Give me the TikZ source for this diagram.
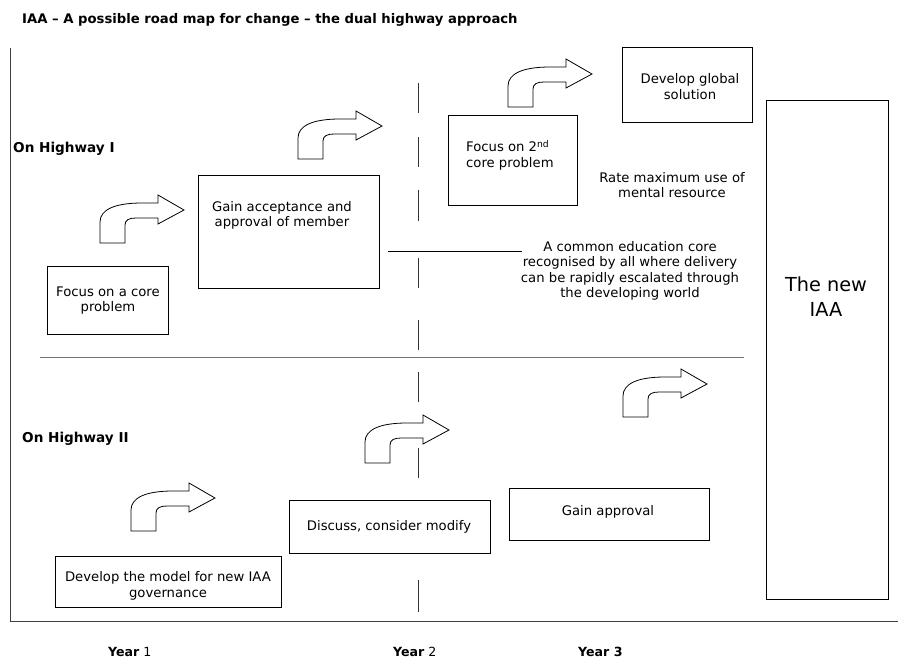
\documentclass[tikz,border=0pt]{standalone}
\usepackage{fontspec}
\setmainfont{DejaVu Sans}
\begin{document}
\begin{tikzpicture}[x=1pt,y=-1pt,
  box/.style={draw=black, line width=0.9pt, fill=white, inner sep=0pt, anchor=north west},
  txt/.style={font=\fontsize{13.2}{15.5}\selectfont, align=center, inner sep=0pt},
  lbl/.style={font=\fontsize{13.6}{15}\selectfont\bfseries, inner sep=0pt, anchor=base west},
  yr/.style={font=\fontsize{12.6}{14}\selectfont, inner sep=0pt, anchor=base west},
  frame/.style={draw=black!75, line width=1pt},
  sep/.style={draw=black!55, line width=1pt},
  dashline/.style={draw=black!80, line width=0.9pt},
  bentarrow/.pic={\draw[fill=white, line width=0.8pt, line join=miter]
    (0,0) -- (25,0) -- (25,-18) .. controls (25,-23) and (29,-25) .. (36,-25)
    -- (58,-25) -- (58,-19) -- (84,-33) -- (58,-48) -- (58,-40) -- (42,-40)
    .. controls (14,-40) and (0,-33) .. (0,-21) -- cycle;}
]
\useasboundingbox (0,0) rectangle (898,662);
% title
\node[font=\fontsize{13.2}{15}\selectfont\bfseries, inner sep=0pt, anchor=base west] (title) at (22,23.5)
  {IAA – A possible road map for change – the dual highway approach};
% frame
\coordinate (ftop) at (10,48);
\coordinate (fcorner) at (10,621);
\coordinate (fright) at (898,621);
\draw[frame] (ftop) -- (fcorner) -- (fright);
% separator
\coordinate (sepl) at (40,357);
\coordinate (sepr) at (744,357);
\draw[sep] (sepl) -- (sepr);
% dashed year-2 line
\foreach \a/\b in {83/113,137/167,190/221,258/288,320/350,372/402,448/478,580/612}
  \draw[dashline] (418,\a) -- (418,\b);
% short horizontal line
\coordinate (hl) at (388,251);
\coordinate (hr) at (522,251);
\draw[line width=0.9pt] (hl) -- (hr);
% highway labels
\node[lbl] (hw1) at (13,152) {On Highway I};
\node[lbl] (hw2) at (22,442) {On Highway II};
% boxes highway I
\node[box, minimum width=121pt, minimum height=68pt] (b1) at (47,266) {};
\node[txt] (b1t) at (b1.center) {Focus on a core\\problem};
\node[box, minimum width=181pt, minimum height=113pt] (b2) at (198,175) {};
\node[txt] (b2t) at (282,215.5) {Gain acceptance and\\approval of member};
\node[box, minimum width=129pt, minimum height=90pt] (b3) at (448,115) {};
\node[txt, align=left, anchor=north west] (b3t) at (466,140) {Focus on 2\textsuperscript{nd}\\core problem};
\node[box, minimum width=130pt, minimum height=75pt] (b4) at (622,47) {};
\node[txt] (b4t) at (690,86.5) {Develop global\\solution};
\node[txt] (rate) at (672,185) {Rate maximum use of\\mental resource};
\node[txt] (core) at (630,271) {A common education core\\recognised by all where delivery\\can be rapidly escalated through\\the developing world};
% big box
\node[box, minimum width=122pt, minimum height=499pt] (iaa) at (766,100) {};
\node[txt, font=\fontsize{19.3}{25}\selectfont] (iaat) at (826,297) {The new\\IAA};
% boxes highway II
\node[box, minimum width=200pt, minimum height=52pt] (c3) at (509,488) {};
\node[txt] (c3t) at (608,512) {Gain approval};
\node[box, minimum width=201pt, minimum height=53pt] (c2) at (289,500) {};
\node[txt] (c2t) at (389,527) {Discuss, consider modify};
\node[box, minimum width=226pt, minimum height=51pt] (c1) at (55,556) {};
\node[txt] (c1t) at (168,586) {Develop the model for new IAA\\governance};
% bent arrows
\pic (a1) at (100,243) {bentarrow};
\pic (a2) at (298,159) {bentarrow};
\pic (a3) at (508,107) {bentarrow};
\pic (a4) at (623,417) {bentarrow};
\pic (a5) at (365,463) {bentarrow};
\pic (a6) at (131,531) {bentarrow};
% years
\node[yr] (y1) at (108,656) {\textbf{Year} 1};
\node[yr] (y2) at (393,656) {\textbf{Year} 2};
\node[yr] (y3) at (578,656) {\textbf{Year 3}};
\end{tikzpicture}
\end{document}
